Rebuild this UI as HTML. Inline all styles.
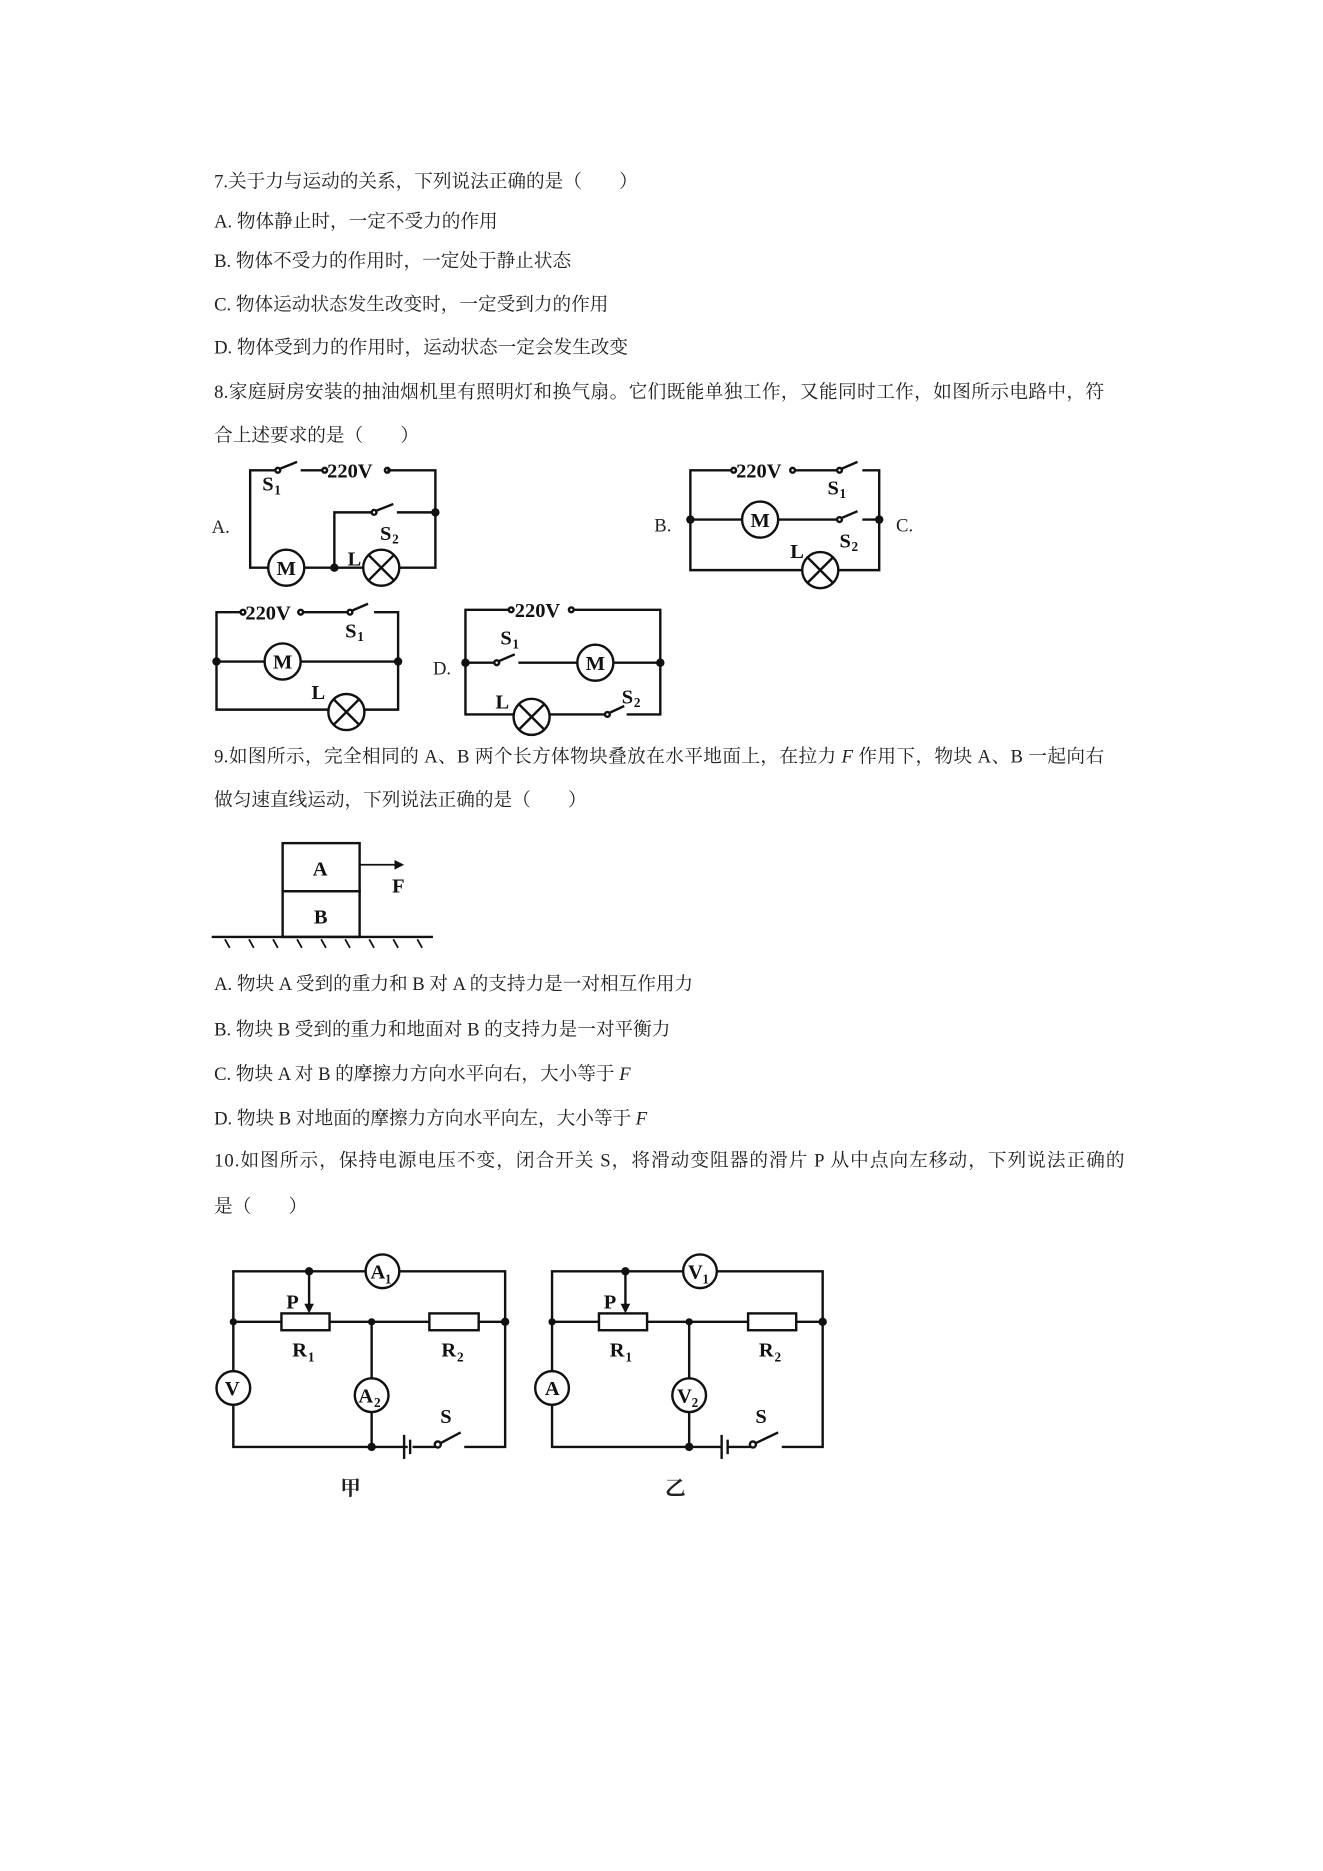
<!DOCTYPE html>
<html><head><meta charset="utf-8"><style>
html,body{margin:0;padding:0;background:#fff;}
svg{display:block;}
.t{font-family:"Liberation Serif","Noto Serif CJK SC",serif;font-size:15.5px;fill:#222;}
.l{font-family:"Liberation Serif",serif;font-size:17px;font-weight:bold;fill:#111;}
.s{font-family:"Liberation Serif",serif;font-size:11px;font-weight:bold;fill:#111;}
.w{stroke:#111;stroke-width:2;fill:none;}
.d{fill:#111;}
</style></head><body>
<svg width="1323" height="1871" viewBox="0 0 1100 1555.6" xmlns="http://www.w3.org/2000/svg">
<g class="t">
<text x="178" y="156">7.关于力与运动的关系，下列说法正确的是（　　）</text>
<text x="178" y="189">A.  物体静止时，一定不受力的作用</text>
<text x="178" y="222">B.  物体不受力的作用时，一定处于静止状态</text>
<text x="178" y="258">C.  物体运动状态发生改变时，一定受到力的作用</text>
<text x="178" y="294">D.  物体受到力的作用时，运动状态一定会发生改变</text>
<text x="178" y="331" textLength="740" lengthAdjust="spacing">8.家庭厨房安装的抽油烟机里有照明灯和换气扇。它们既能单独工作，又能同时工作，如图所示电路中，符</text>
<text x="178" y="367">合上述要求的是（　　）</text>
<text x="178" y="634" textLength="740" lengthAdjust="spacing">9.如图所示，完全相同的 A、B 两个长方体物块叠放在水平地面上，在拉力 <tspan font-style="italic">F</tspan> 作用下，物块 A、B 一起向右</text>
<text x="178" y="670">做匀速直线运动，下列说法正确的是（　　）</text>
<text x="178" y="823">A. 物块 A 受到的重力和 B 对 A 的支持力是一对相互作用力</text>
<text x="178" y="861">B. 物块 B 受到的重力和地面对 B 的支持力是一对平衡力</text>
<text x="178" y="898">C. 物块 A 对 B 的摩擦力方向水平向右，大小等于 <tspan font-style="italic">F</tspan></text>
<text x="178" y="935">D. 物块 B 对地面的摩擦力方向水平向左，大小等于 <tspan font-style="italic">F</tspan></text>
<text x="178" y="970" textLength="757" lengthAdjust="spacing">10.如图所示，保持电源电压不变，闭合开关 S，将滑动变阻器的滑片 P 从中点向左移动，下列说法正确的</text>
<text x="178" y="1008">是（　　）</text>
<text x="176" y="443">A.</text><text x="544" y="442">B.</text><text x="745" y="442">C.</text><text x="360" y="561">D.</text>
</g>

<!-- Circuit A -->
<g class="w">
<path d="M229 391 H208 V472 H223 M253 472 H302 M332 472 H362 V391 H322"/>
<path d="M250 391 H268"/>
<circle cx="270" cy="391" r="2"/><circle cx="322" cy="391" r="2"/>
<circle cx="231" cy="391" r="2"/><path d="M232 390 L247 384"/>
<circle cx="238" cy="472" r="15"/>
<circle cx="317" cy="472" r="15"/><path d="M306.4 461.4 L327.6 482.6 M327.6 461.4 L306.4 482.6"/>
<path d="M278 472 V426 H309 M330 426 H362"/>
<circle cx="311" cy="426" r="2"/><path d="M312 425 L327 419"/>
</g>
<circle class="d" cx="278" cy="472" r="3.5"/><circle class="d" cx="362" cy="426" r="3.5"/>
<text class="l" x="272" y="397">220V</text>
<text class="l" x="218" y="408">S</text><text class="s" x="228" y="411">1</text>
<text class="l" x="316" y="449">S</text><text class="s" x="326" y="452">2</text>
<text class="l" x="289" y="470">L</text>
<text class="l" x="230" y="478">M</text>

<!-- Circuit B -->
<g class="w">
<path d="M608 391 H574 V474 H667 M697 474 H731 V391 H717 M696 391 H661"/>
<circle cx="610" cy="391" r="2"/><circle cx="659" cy="391" r="2"/>
<circle cx="698" cy="391" r="2"/><path d="M699 390 L713 384"/>
<path d="M574 432 H617 M647 432 H696 M717 432 H731"/>
<circle cx="698" cy="432" r="2"/><path d="M699 431 L713 425"/>
<circle cx="632" cy="432" r="15"/>
<circle cx="682" cy="474" r="15"/><path d="M671.4 463.4 L692.6 484.6 M692.6 463.4 L671.4 484.6"/>
</g>
<circle class="d" cx="574" cy="432" r="3.5"/><circle class="d" cx="731" cy="432" r="3.5"/>
<text class="l" x="612" y="397">220V</text>
<text class="l" x="688" y="411">S</text><text class="s" x="698" y="414">1</text>
<text class="l" x="698" y="455">S</text><text class="s" x="708" y="458">2</text>
<text class="l" x="657" y="464">L</text>
<text class="l" x="624" y="438">M</text>

<!-- Circuit C -->
<g class="w">
<path d="M200 509 H180 V590 H273 M303 590 H331 V509 H311 M289 509 H252"/>
<circle cx="202" cy="509" r="2"/><circle cx="250" cy="509" r="2"/>
<circle cx="291" cy="509" r="2"/><path d="M292 508 L306 502"/>
<path d="M180 550 H220 M250 550 H331"/>
<circle cx="235" cy="550" r="15"/>
<circle cx="288" cy="592" r="15"/><path d="M277.4 581.4 L298.6 602.6 M298.6 581.4 L277.4 602.6"/>
</g>
<circle class="d" cx="180" cy="550" r="3.5"/><circle class="d" cx="331" cy="550" r="3.5"/>
<text class="l" x="204" y="515">220V</text>
<text class="l" x="287" y="530">S</text><text class="s" x="297" y="533">1</text>
<text class="l" x="259" y="581">L</text>
<text class="l" x="227" y="556">M</text>

<!-- Circuit D -->
<g class="w">
<path d="M423 507 H387 V594 H427 M457 594 H503 M521 594 H549 V507 H477"/>
<circle cx="425" cy="507" r="2"/><circle cx="475" cy="507" r="2"/>
<path d="M387 551 H411 M431 551 H480 M510 551 H549"/>
<circle cx="413" cy="551" r="2"/><path d="M414 550 L428 544"/>
<circle cx="505" cy="594" r="2"/><path d="M506 593 L519 587"/>
<circle cx="495" cy="551" r="15"/>
<circle cx="442" cy="596" r="15"/><path d="M431.4 585.4 L452.6 606.6 M452.6 585.4 L431.4 606.6"/>
</g>
<circle class="d" cx="387" cy="551" r="3.5"/><circle class="d" cx="549" cy="551" r="3.5"/>
<text class="l" x="428" y="513">220V</text>
<text class="l" x="416" y="536">S</text><text class="s" x="426" y="539">1</text>
<text class="l" x="412" y="589">L</text>
<text class="l" x="517" y="585">S</text><text class="s" x="527" y="588">2</text>
<text class="l" x="487" y="557">M</text>

<!-- Q9 blocks -->
<g class="w">
<rect x="235" y="701" width="64" height="40"/>
<rect x="235" y="741" width="64" height="38"/>
<path d="M176 779 H360" />
<path d="M299 719 H332" stroke-width="1.5"/>
<path d="M187 781 l4 7 M207 781 l4 7 M227 781 l4 7 M247 781 l4 7 M267 781 l4 7 M287 781 l4 7 M307 781 l4 7 M327 781 l4 7 M347 781 l4 7" stroke-width="1.5"/>
</g>
<path d="M336 719 L328 715 L328 723 Z" class="d"/>
<text class="l" x="260" y="728">A</text>
<text class="l" x="261" y="768">B</text>
<text class="l" x="326" y="742">F</text>

<!-- Circuit 甲 -->
<g class="w">
<path d="M194 1140 V1057 H304 M332 1057 H420 V1203 H386"/>
<path d="M194 1168 V1203 H339 M343 1203 H362"/>
<path d="M336 1193 V1213" /><path d="M341 1197 V1209"/>
<circle cx="364" cy="1201" r="2.5"/><path d="M366 1200 L383 1191"/>
<circle cx="318" cy="1057" r="14"/>
<circle cx="194" cy="1154" r="14"/>
<circle cx="309" cy="1160" r="14"/>
<path d="M194 1099 H234 M274 1099 H357 M398 1099 H420"/>
<rect x="234" y="1092" width="40" height="14"/>
<rect x="357" y="1092" width="41" height="14"/>
<path d="M309 1099 V1146 M309 1174 V1203"/>
<path d="M257 1057 V1086"/>
</g>
<path d="M257 1092 L253 1084 L261 1084 Z" class="d"/>
<circle class="d" cx="257" cy="1057" r="3.5"/><circle class="d" cx="194" cy="1099" r="3"/>
<circle class="d" cx="309" cy="1099" r="3"/><circle class="d" cx="420" cy="1099" r="3.5"/>
<circle class="d" cx="309" cy="1203" r="3.5"/>
<text class="l" x="308" y="1063">A</text><text class="s" x="320" y="1067">1</text>
<text class="l" x="187" y="1160">V</text>
<text class="l" x="298" y="1166">A</text><text class="s" x="311" y="1170">2</text>
<text class="l" x="238" y="1088">P</text>
<text class="l" x="243" y="1128">R</text><text class="s" x="256" y="1132">1</text>
<text class="l" x="367" y="1128">R</text><text class="s" x="380" y="1132">2</text>
<text class="l" x="366" y="1183">S</text>
<text class="t" x="283" y="1243" style="font-size:17px;font-weight:bold">甲</text>

<!-- Circuit 乙 -->
<g class="w">
<path d="M459 1140 V1057 H568 M596 1057 H684 V1203 H650"/>
<path d="M459 1168 V1203 H600 M605 1203 H624"/>
<path d="M600 1193 V1213"/><path d="M605 1197 V1209"/>
<circle cx="626" cy="1201" r="2.5"/><path d="M628 1200 L647 1191"/>
<circle cx="582" cy="1057" r="14"/>
<circle cx="459" cy="1154" r="14"/>
<circle cx="573" cy="1160" r="14"/>
<path d="M459 1099 H498 M538 1099 H622 M662 1099 H684"/>
<rect x="498" y="1092" width="40" height="14"/>
<rect x="622" y="1092" width="40" height="14"/>
<path d="M573 1099 V1146 M573 1174 V1203"/>
<path d="M520 1057 V1086"/>
</g>
<path d="M520 1092 L516 1084 L524 1084 Z" class="d"/>
<circle class="d" cx="520" cy="1057" r="3.5"/><circle class="d" cx="459" cy="1099" r="3"/>
<circle class="d" cx="573" cy="1099" r="3"/><circle class="d" cx="684" cy="1099" r="3.5"/>
<circle class="d" cx="573" cy="1203" r="3.5"/>
<text class="l" x="572" y="1063">V</text><text class="s" x="584" y="1067">1</text>
<text class="l" x="453" y="1160">A</text>
<text class="l" x="563" y="1166">V</text><text class="s" x="575" y="1170">2</text>
<text class="l" x="502" y="1088">P</text>
<text class="l" x="507" y="1128">R</text><text class="s" x="520" y="1132">1</text>
<text class="l" x="631" y="1128">R</text><text class="s" x="644" y="1132">2</text>
<text class="l" x="628" y="1183">S</text>
<text class="t" x="553" y="1243" style="font-size:17px;font-weight:bold">乙</text>
</svg>
</body></html>
